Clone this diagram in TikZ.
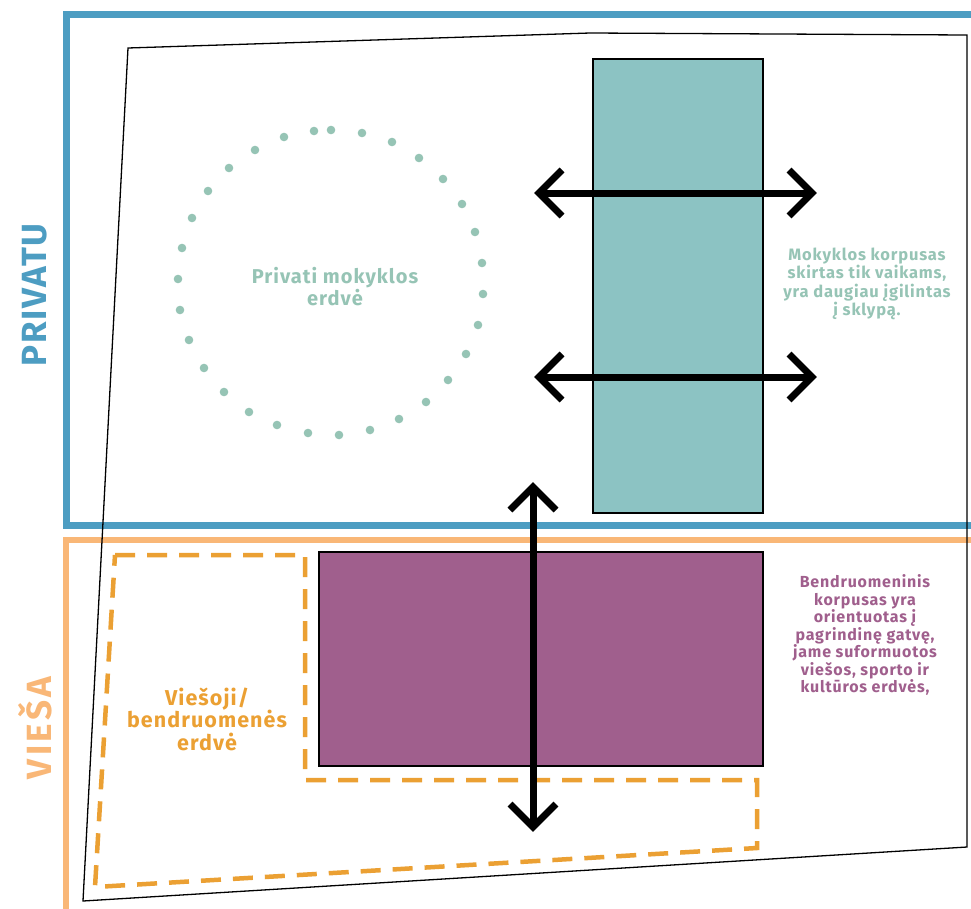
\documentclass[tikz,border=0pt]{standalone}
\usepackage{fontspec}
\setmainfont{Fira Sans}
\newfontfamily\lblfont[LetterSpace=5]{Fira Sans}
\newfontfamily\widefont[LetterSpace=10]{Fira Sans}
\usetikzlibrary{calc}
\definecolor{frameblue}{RGB}{77,157,194}
\definecolor{frameorange}{RGB}{249,183,119}
\definecolor{tealbox}{RGB}{140,195,195}
\definecolor{dotgreen}{RGB}{150,196,181}
\definecolor{purplebox}{RGB}{160,95,141}
\definecolor{dashorange}{RGB}{235,160,51}
\begin{document}
\begin{tikzpicture}[x=1pt,y=-1pt,
  blueframe/.style={draw=frameblue,line width=7pt},
  orangeframe/.style={draw=frameorange,line width=6pt},
  parcel/.style={draw=black,line width=1.3pt,line join=miter},
  dashzone/.style={draw=dashorange,line width=4.5pt,dash pattern=on 20pt off 12pt},
  building/.style={draw=black,line width=2.5pt,inner sep=0pt,outer sep=0pt},
  arrowline/.style={draw=black,line width=7pt,line join=miter,line cap=butt},
  dotstyle/.style={fill=dotgreen},
  label/.style={align=center,inner sep=0pt}
]
\useasboundingbox (0,0) rectangle (971,908);
\clip (0,0) rectangle (971,908);
\fill[white] (0,0) rectangle (971,908);
% frames
\draw[blueframe] (66,14) rectangle (1010,525);
\draw[orangeframe] (66,540) rectangle (1010,960);
% parcel outline
\draw[parcel] (128,48) -- (590,33) -- (967,35) -- (967,847) -- (83,901) -- cycle;
% dashed public zone
\draw[dashzone] (115,555) -- (305,555) -- (305,780) -- (757,780) -- (757,848) -- (95,887) -- cycle;
% buildings
\node[building,fill=tealbox,minimum width=170pt,minimum height=454pt] (school) at (678,286) {};
\node[building,fill=purplebox,minimum width=444pt,minimum height=214pt] (community) at (541,659) {};
% dotted circle
\foreach \p in {(314,131),(331,130),(362,133),(392,142),(419,158),(443,179),(462,204),(475,232),(482,263),(483,294),(478,325),(466,354),(448,380),(426,402),(399,419),(370,430),(339,435),(308,433),(277,425),(249,412),(224,392),(204,368),(189,340),(180,310),(178,279),(182,248),(192,218),(208,191),(229,168),(255,150),(284,137)}
  \fill[dotstyle] \p circle (4.3pt);
% arrows
\coordinate (h1l) at (539,193);
\coordinate (h1r) at (812,193);
\coordinate (h2l) at (539,377);
\coordinate (h2r) at (812,377);
\coordinate (vt) at (533,487);
\coordinate (vb) at (533,827);
\draw[arrowline] (h1l) -- (h1r);
\draw[arrowline] ($(h1l)+(23,-23)$) -- (h1l) -- ($(h1l)+(23,23)$);
\draw[arrowline] ($(h1r)+(-23,-23)$) -- (h1r) -- ($(h1r)+(-23,23)$);
\draw[arrowline] (h2l) -- (h2r);
\draw[arrowline] ($(h2l)+(23,-23)$) -- (h2l) -- ($(h2l)+(23,23)$);
\draw[arrowline] ($(h2r)+(-23,-23)$) -- (h2r) -- ($(h2r)+(-23,23)$);
\draw[arrowline] (vt) -- (vb);
\draw[arrowline] ($(vt)+(-23,23)$) -- (vt) -- ($(vt)+(23,23)$);
\draw[arrowline] ($(vb)+(-23,-23)$) -- (vb) -- ($(vb)+(23,-23)$);
% labels
\node[label,text=frameblue,rotate=90,font=\lblfont\bfseries\fontsize{35}{35}\selectfont] (privatu) at (35,295) {PRIVATU};
\node[label,text=frameorange,rotate=90,font=\widefont\bfseries\fontsize{35}{35}\selectfont] (viesa) at (35,728) {VIEŠA};
\node[label,text=dotgreen,font=\lblfont\bfseries\fontsize{20}{22}\selectfont] (privlabel) at (335,287) {Privati mokyklos\\erdvė};
\node[label,text=dotgreen,font=\lblfont\bfseries\fontsize{16.5}{18.3}\selectfont] (schooltext) at (867,284) {Mokyklos korpusas\\skirtas tik vaikams,\\yra daugiau įgilintas\\į sklypą.};
\node[label,text=purplebox,font=\lblfont\bfseries\fontsize{16}{17.5}\selectfont] (commtext) at (865,635) {Bendruomeninis\\korpusas yra\\orientuotas į\\pagrindinę gatvę,\\jame suformuotos\\viešos, sporto ir\\kultūros erdvės,};
\node[label,text=dashorange,font=\lblfont\bfseries\fontsize{21.5}{22.5}\selectfont] (publabel) at (207,719) {Viešoji/\\bendruomenės\\erdvė};
\end{tikzpicture}
\end{document}
